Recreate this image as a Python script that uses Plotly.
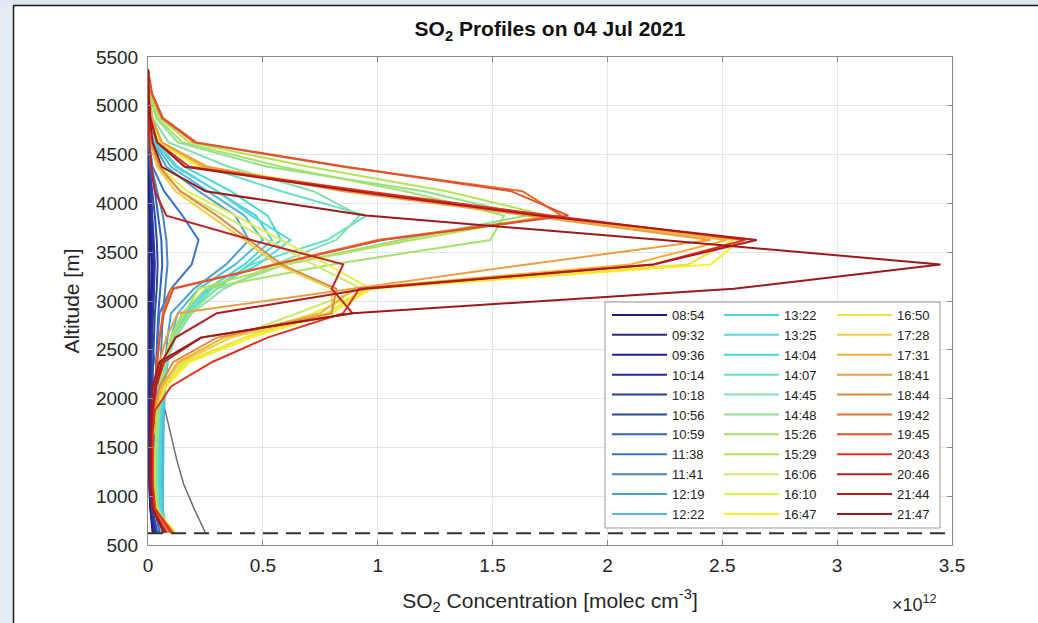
import plotly.graph_objects as go

# Altitude levels of the retrieval grid [m]
ALTITUDE = [625, 875, 1125, 1375, 1625, 1875, 2125, 2375, 2625, 2875,
            3125, 3375, 3625, 3875, 4125, 4375, 4625, 4875, 5125, 5375]

# SO2 concentration profiles [1e12 molec cm^-3], one per scan time
p0854 = [0.02, 0.01, 0.005, 0.005, 0.005, 0.005, 0.005, 0.005, 0.005, 0.006, 0.008, 0.008, 0.006, 0.005, 0.004, 0.003, 0.002, 0.001, 0.001, 0.0]
p0932 = [0.03, 0.012, 0.008, 0.008, 0.008, 0.008, 0.008, 0.009, 0.01, 0.012, 0.015, 0.015, 0.012, 0.01, 0.007, 0.004, 0.002, 0.001, 0.0, 0.0]
p0936 = [0.025, 0.01, 0.008, 0.007, 0.007, 0.007, 0.008, 0.009, 0.011, 0.014, 0.018, 0.018, 0.014, 0.01, 0.007, 0.004, 0.002, 0.001, 0.0, 0.0]
p1014 = [0.03, 0.012, 0.01, 0.01, 0.01, 0.01, 0.01, 0.012, 0.015, 0.02, 0.025, 0.025, 0.02, 0.015, 0.01, 0.005, 0.002, 0.001, 0.0, 0.0]
p1018 = [0.035, 0.015, 0.012, 0.012, 0.012, 0.012, 0.012, 0.014, 0.018, 0.022, 0.028, 0.03, 0.025, 0.018, 0.012, 0.006, 0.003, 0.001, 0.0, 0.0]
p1056 = [0.04, 0.02, 0.018, 0.018, 0.018, 0.018, 0.02, 0.022, 0.025, 0.03, 0.038, 0.042, 0.038, 0.03, 0.018, 0.008, 0.003, 0.001, 0.0, 0.0]
p1059 = [0.05, 0.03, 0.028, 0.028, 0.028, 0.03, 0.032, 0.035, 0.04, 0.045, 0.055, 0.062, 0.058, 0.045, 0.03, 0.012, 0.004, 0.001, 0.0, 0.0]
p1138 = [0.05, 0.035, 0.035, 0.035, 0.035, 0.035, 0.036, 0.038, 0.042, 0.05, 0.1, 0.19, 0.22, 0.15, 0.07, 0.02, 0.005, 0.001, 0.0, 0.0]
p1141 = [0.06, 0.05, 0.05, 0.05, 0.05, 0.05, 0.052, 0.055, 0.06, 0.065, 0.075, 0.085, 0.08, 0.065, 0.04, 0.015, 0.004, 0.001, 0.0, 0.0]
p1219 = [0.07, 0.06, 0.06, 0.06, 0.062, 0.065, 0.068, 0.075, 0.085, 0.1, 0.2, 0.34, 0.44, 0.38, 0.22, 0.08, 0.02, 0.005, 0.001, 0.0]
p1222 = [0.08, 0.065, 0.065, 0.065, 0.068, 0.07, 0.075, 0.085, 0.1, 0.13, 0.22, 0.38, 0.5, 0.42, 0.26, 0.1, 0.025, 0.006, 0.001, 0.0]
p1322 = [0.09, 0.06, 0.055, 0.055, 0.058, 0.062, 0.07, 0.085, 0.11, 0.16, 0.26, 0.42, 0.54, 0.47, 0.3, 0.12, 0.03, 0.008, 0.002, 0.0]
p1325 = [0.09, 0.055, 0.05, 0.05, 0.052, 0.058, 0.066, 0.08, 0.1, 0.15, 0.27, 0.48, 0.62, 0.45, 0.3, 0.13, 0.035, 0.01, 0.002, 0.0]
p1404 = [0.09, 0.05, 0.045, 0.045, 0.048, 0.055, 0.065, 0.08, 0.11, 0.17, 0.3, 0.44, 0.58, 0.52, 0.36, 0.16, 0.04, 0.01, 0.002, 0.0]
p1407 = [0.09, 0.045, 0.04, 0.04, 0.044, 0.05, 0.06, 0.08, 0.11, 0.17, 0.28, 0.45, 0.78, 0.95, 0.58, 0.25, 0.06, 0.015, 0.003, 0.0]
p1445 = [0.09, 0.045, 0.04, 0.04, 0.044, 0.05, 0.06, 0.08, 0.12, 0.19, 0.33, 0.55, 0.82, 0.92, 0.72, 0.35, 0.09, 0.02, 0.004, 0.0]
p1448 = [0.09, 0.04, 0.035, 0.035, 0.04, 0.045, 0.055, 0.075, 0.11, 0.18, 0.3, 0.6, 1.1, 1.65, 1.2, 0.52, 0.13, 0.035, 0.007, 0.0]
p1526 = [0.1, 0.04, 0.03, 0.03, 0.035, 0.04, 0.05, 0.07, 0.1, 0.15, 0.25, 0.8, 1.49, 1.55, 1.12, 0.58, 0.15, 0.04, 0.008, 0.0]
p1529 = [0.1, 0.04, 0.03, 0.03, 0.035, 0.04, 0.05, 0.07, 0.1, 0.16, 0.22, 0.6, 1.15, 1.74, 1.3, 0.7, 0.18, 0.05, 0.01, 0.0]
p1606 = [0.1, 0.03, 0.02, 0.02, 0.022, 0.03, 0.06, 0.15, 0.36, 0.65, 0.93, 0.72, 0.52, 0.33, 0.14, 0.04, 0.01, 0.003, 0.001, 0.0]
p1610 = [0.11, 0.03, 0.02, 0.02, 0.022, 0.03, 0.07, 0.17, 0.42, 0.72, 0.97, 0.78, 0.58, 0.38, 0.17, 0.05, 0.012, 0.003, 0.001, 0.0]
p1647 = [0.12, 0.03, 0.02, 0.02, 0.022, 0.03, 0.08, 0.18, 0.45, 0.8, 0.97, 2.45, 2.58, 1.72, 0.9, 0.22, 0.05, 0.015, 0.003, 0.0]
p1650 = [0.11, 0.03, 0.02, 0.02, 0.022, 0.03, 0.075, 0.16, 0.42, 0.78, 0.95, 2.35, 2.55, 1.7, 0.92, 0.25, 0.06, 0.018, 0.004, 0.0]
p1728 = [0.1, 0.03, 0.02, 0.02, 0.022, 0.03, 0.065, 0.14, 0.36, 0.8, 0.8, 0.56, 0.42, 0.27, 0.12, 0.04, 0.01, 0.003, 0.001, 0.0]
p1731 = [0.1, 0.03, 0.02, 0.02, 0.02, 0.028, 0.06, 0.13, 0.33, 0.75, 0.9, 2.1, 2.52, 1.68, 0.88, 0.24, 0.06, 0.015, 0.003, 0.0]
p1841 = [0.09, 0.025, 0.018, 0.018, 0.018, 0.022, 0.03, 0.05, 0.08, 0.13, 0.88, 1.65, 2.45, 1.65, 0.85, 0.26, 0.06, 0.018, 0.004, 0.0]
p1844 = [0.09, 0.025, 0.018, 0.018, 0.02, 0.026, 0.05, 0.11, 0.3, 0.8, 0.82, 0.58, 0.44, 0.3, 0.14, 0.05, 0.012, 0.003, 0.001, 0.0]
p1942 = [0.1, 0.03, 0.02, 0.02, 0.02, 0.025, 0.03, 0.04, 0.05, 0.065, 0.1, 0.55, 1.0, 1.8, 1.63, 0.85, 0.2, 0.06, 0.015, 0.0]
p1945 = [0.11, 0.03, 0.02, 0.02, 0.02, 0.025, 0.03, 0.04, 0.05, 0.07, 0.11, 0.56, 1.02, 1.83, 1.58, 0.86, 0.21, 0.065, 0.018, 0.0]
p2043 = [0.1, 0.03, 0.02, 0.02, 0.02, 0.03, 0.1, 0.28, 0.52, 0.85, 0.92, 2.2, 2.6, 1.75, 0.95, 0.18, 0.04, 0.01, 0.002, 0.0]
p2046 = [0.08, 0.02, 0.015, 0.015, 0.015, 0.02, 0.035, 0.07, 0.23, 0.89, 0.8, 0.85, 0.45, 0.08, 0.03, 0.015, 0.006, 0.002, 0.001, 0.0]
p2144 = [0.07, 0.02, 0.012, 0.012, 0.012, 0.02, 0.03, 0.06, 0.12, 0.3, 0.95, 2.2, 2.65, 1.7, 0.9, 0.16, 0.04, 0.01, 0.002, 0.0]
p2147 = [0.07, 0.02, 0.01, 0.01, 0.01, 0.012, 0.02, 0.05, 0.23, 0.89, 2.55, 3.45, 2.24, 0.95, 0.25, 0.06, 0.02, 0.008, 0.002, 0.0]

TIMES = ["08:54", "09:32", "09:36", "10:14", "10:18", "10:56", "10:59", "11:38", "11:41",
         "12:19", "12:22", "13:22", "13:25", "14:04", "14:07", "14:45", "14:48", "15:26",
         "15:29", "16:06", "16:10", "16:47", "16:50", "17:28", "17:31", "18:41", "18:44",
         "19:42", "19:45", "20:43", "20:46", "21:44", "21:47"]

PROFILES = [p0854, p0932, p0936, p1014, p1018, p1056, p1059, p1138, p1141,
            p1219, p1222, p1322, p1325, p1404, p1407, p1445, p1448, p1526,
            p1529, p1606, p1610, p1647, p1650, p1728, p1731, p1841, p1844,
            p1942, p1945, p2043, p2046, p2144, p2147]

COLORS = ["#1f1f6b", "#27277f", "#1f1fa3", "#2828a0", "#2a3a98", "#2a4a9e", "#2f62c4",
          "#3a74cc", "#4a86b8", "#4aa2d2", "#4fbbd9", "#4fcfe2", "#55d6e0", "#45dcd6",
          "#66e0c6", "#86dfb0", "#92e08e", "#a4e26e", "#b4e455", "#cfe86e", "#e6f04a",
          "#f8f020", "#f2e23e", "#f0cf45", "#f0b235", "#e8a045", "#d98e40", "#e2702e",
          "#e2522c", "#e03222", "#c22222", "#b01a1a", "#9e1a1a"]

# A-priori profile and ground level
APRIORI_ALT = [625, 875, 1125, 1375, 1625, 1875, 2125, 2375, 2625, 2875, 3125]
APRIORI_VAL = [0.25, 0.2, 0.155, 0.125, 0.1, 0.075, 0.05, 0.03, 0.015, 0.005, 0.0]
GROUND_ALT = 620

FONT = "Liberation Sans, Arial, Helvetica, sans-serif"

# plot area in pixels
W, H = 1038, 623
L_PX, R_PX, T_PX, B_PX = 148, 952, 57, 545
PW, PH = R_PX - L_PX, B_PX - T_PX


def px_x(px):
    return (px - L_PX) / PW


def px_y(py):
    return (B_PX - py) / PH


fig = go.Figure()

fig.add_trace(go.Scatter(x=APRIORI_VAL, y=APRIORI_ALT, mode="lines",
                         line=dict(color="#6e6e6e", width=1.5), showlegend=False,
                         hoverinfo="skip"))

legend_names = ["legend", "legend2", "legend3"]
for i, (t, prof, col) in enumerate(zip(TIMES, PROFILES, COLORS)):
    fig.add_trace(go.Scatter(
        x=prof, y=ALTITUDE, mode="lines", name=t,
        line=dict(color=col, width=2),
        legend=legend_names[i // 11],
    ))

fig.add_trace(go.Scatter(x=[0, 3.5], y=[GROUND_ALT, GROUND_ALT], mode="lines",
                         line=dict(color="#333333", width=2, dash="15px,8px"),
                         showlegend=False, hoverinfo="skip"))

axis_common = dict(
    showgrid=True, gridcolor="#e4e4e4", gridwidth=1,
    showline=True, linecolor="#8a8a8a", linewidth=1, mirror="ticks",
    ticks="inside", ticklen=5, tickcolor="#8a8a8a",
    zeroline=False, tickfont=dict(family=FONT, size=19, color="#262626"),
    automargin=False,
)

fig.update_layout(
    width=W, height=H,
    margin=dict(l=L_PX, r=W - R_PX, t=T_PX, b=H - B_PX),
    paper_bgcolor="white", plot_bgcolor="white",
    font=dict(family=FONT, color="#262626"),
    title=dict(text="<b>SO<sub>2</sub> Profiles on 04 Jul 2021</b>",
               x=px_x(550), xref="paper", xanchor="center",
               y=1 - 29 / H, yanchor="middle",
               font=dict(family=FONT, size=21, color="#111111")),
    xaxis=dict(range=[0, 3.5], dtick=0.5, tick0=0, ticklabelstandoff=3,
               title=dict(text="SO<sub>2</sub> Concentration [molec cm<sup>-3</sup>]",
                          font=dict(family=FONT, size=21, color="#262626"), standoff=18),
               **axis_common),
    yaxis=dict(range=[500, 5500], dtick=500, tick0=500, ticklabelstandoff=5,
               title=dict(text="Altitude [m]",
                          font=dict(family=FONT, size=21, color="#262626"), standoff=10),
               **axis_common),
    showlegend=True,
)

leg_common = dict(bgcolor="rgba(0,0,0,0)", borderwidth=0,
                  font=dict(family=FONT, size=13, color="#222222"),
                  yanchor="top", xanchor="left", tracegroupgap=0,
                  itemwidth=55, traceorder="normal")
fig.update_layout(
    legend=dict(x=px_x(607), y=px_y(300), **leg_common),
    legend2=dict(x=px_x(719), y=px_y(300), **leg_common),
    legend3=dict(x=px_x(832), y=px_y(300), **leg_common),
)

shapes = [
    # legend box
    dict(type="rect", xref="paper", yref="paper",
         x0=px_x(605), x1=px_x(940), y0=px_y(528), y1=px_y(302),
         fillcolor="white", line=dict(color="#9a9a9a", width=1), layer="above"),
    # window frame strips
    dict(type="rect", xref="paper", yref="paper",
         x0=px_x(0), x1=px_x(13), y0=px_y(H), y1=px_y(0),
         fillcolor="#e4ebf3", line=dict(width=0), layer="below"),
    dict(type="rect", xref="paper", yref="paper",
         x0=px_x(0), x1=px_x(W), y0=px_y(5), y1=px_y(0),
         fillcolor="#dfe7f1", line=dict(width=0), layer="below"),
    dict(type="line", xref="paper", yref="paper",
         x0=px_x(13.5), x1=px_x(13.5), y0=px_y(H), y1=px_y(5),
         line=dict(color="#1a1a1a", width=1.5)),
    dict(type="line", xref="paper", yref="paper",
         x0=px_x(13), x1=px_x(W), y0=px_y(5.5), y1=px_y(5.5),
         line=dict(color="#1a1a1a", width=1.5)),
]
fig.update_layout(shapes=shapes)

fig.add_annotation(text="\u00d710<sup>12</sup>", xref="paper", yref="paper",
                   x=px_x(914), y=px_y(603), xanchor="center", yanchor="middle",
                   showarrow=False, font=dict(family=FONT, size=18, color="#262626"))

fig.write_html("out.html")
